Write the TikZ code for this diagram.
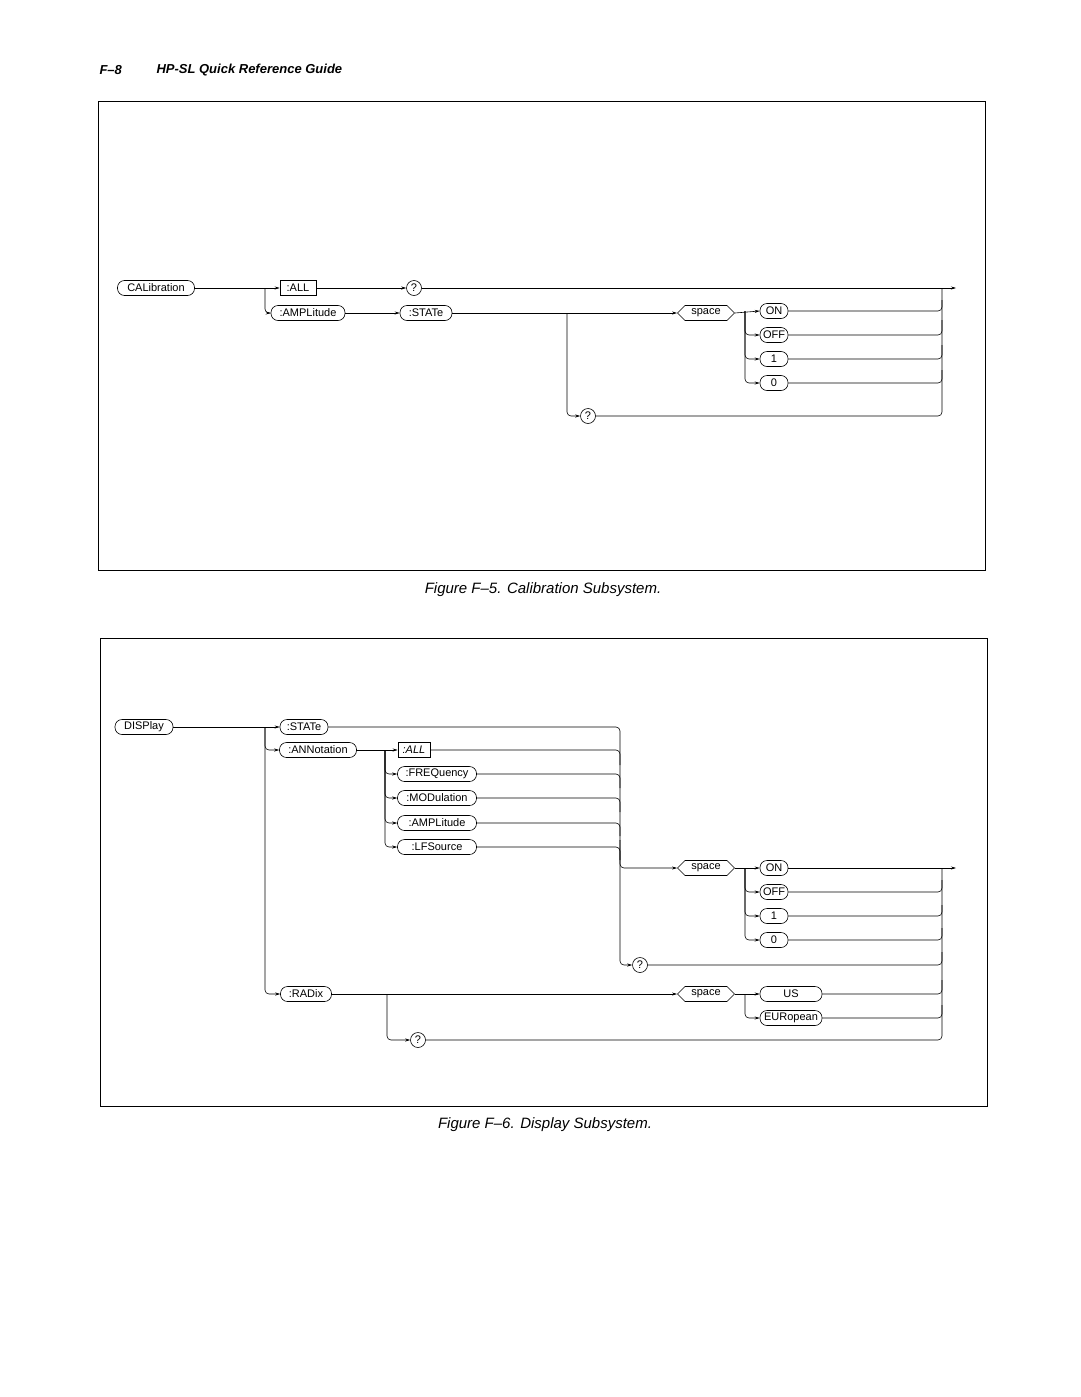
\documentclass[tikz,border=0pt]{standalone}
\usepackage{fontspec}
\setmainfont{Liberation Sans}
\usetikzlibrary{arrows.meta,shapes.symbols}
\begin{document}
\begin{tikzpicture}[x=1pt,y=-1pt,
  every node/.style={font=\fontsize{11}{12}\selectfont},
  rr/.style={draw,rounded corners=7pt,minimum height=15pt,inner sep=1.5pt,line width=0.6pt},
  sq/.style={draw,minimum height=15pt,inner sep=1.5pt,line width=0.6pt},
  qq/.style={draw,circle,minimum size=15pt,inner sep=0pt,line width=0.6pt},
  hx/.style={draw,signal,signal to=east and west,minimum height=15pt,minimum width=57pt,inner sep=1.5pt,line width=0.6pt},
  ln/.style={line width=0.6pt,rounded corners=4pt},
  ar/.style={ln,-{Stealth[length=5pt,width=3pt]}},
  frm/.style={line width=1pt}]
\useasboundingbox (0,0) rectangle (1080,1397);
% header and frames
\node[anchor=west,font=\fontsize{13}{15}\selectfont\bfseries\itshape] (hdr1) at (96,70) {F–8};
\node[anchor=west,font=\fontsize{13}{15}\selectfont\bfseries\itshape] (hdr2) at (153,70) {HP-SL Quick Reference Guide};
\draw[frm] (98,101) rectangle (985,570);
\draw[frm] (100,638) rectangle (987,1106);
\node[font=\fontsize{15}{17}\selectfont\itshape] (cap1) at (543,590) {Figure F–5. Calibration Subsystem.};
\node[font=\fontsize{15}{17}\selectfont\itshape] (cap2) at (545,1125) {Figure F–6. Display Subsystem.};

% ===== Top diagram =====
\node[rr,minimum width=77pt] (cal) at (156,288) {CALibration};
\node[sq,minimum width=36pt] (all) at (298,288) {:ALL};
\node[qq] (q1) at (414,288) {?};
\node[rr,minimum width=74pt] (amp) at (308,313) {:AMPLitude};
\node[rr,minimum width=52pt] (stt) at (426,313) {:STATe};
\node[hx] (sp1) at (706,313) {space};
\node[rr,minimum width=28pt] (on1) at (774,311) {ON};
\node[rr,minimum width=28pt] (off1) at (774,335) {OFF};
\node[rr,minimum width=28pt] (one1) at (774,359) {1};
\node[rr,minimum width=28pt] (zer1) at (774,383) {0};
\node[qq] (q2) at (588,416) {?};
\coordinate (b1) at (265,288);
\coordinate (b2) at (567,313);
\coordinate (b3) at (745,311);
\coordinate (out1) at (956,288);

\draw[ar] (cal.east) -- (all.west);
\draw[ar] (b1) |- (amp.west);
\draw[ar] (all.east) -- (q1.west);
\draw[ar] (q1.east) -- (out1);
\draw[ar] (amp.east) -- (stt.west);
\draw[ar] (stt.east) -- (sp1.west);
\draw[ar] (b2) |- (q2.west);
\draw[ar] (sp1.east) -- (on1.west);
\draw[ar] (b3) |- (off1.west);
\draw[ar] (b3) |- (one1.west);
\draw[ar] (b3) |- (zer1.west);
\draw[ln] (q2.east) -| (942,288);
\draw[ln] (on1.east) -| (942,300);
\draw[ln] (off1.east) -| (942,320);
\draw[ln] (one1.east) -| (942,345);
\draw[ln] (zer1.east) -| (942,370);

% ===== Bottom diagram =====
\node[rr,minimum width=58pt] (dsp) at (144,727) {DISPlay};
\node[rr,minimum width=48pt] (st2) at (304,727) {:STATe};
\node[rr,minimum width=77pt] (ann) at (318,750) {:ANNotation};
\node[rr,minimum width=51pt] (rad) at (306,994) {:RADix};
\node[sq,minimum width=32pt,font=\fontsize{11}{12}\selectfont\itshape] (allb) at (414,750) {:ALL};
\node[rr,minimum width=79pt] (frq) at (437,774) {:FREQuency};
\node[rr,minimum width=79pt] (mod) at (437,798) {:MODulation};
\node[rr,minimum width=79pt] (amp2) at (437,823) {:AMPLitude};
\node[rr,minimum width=79pt] (lfs) at (437,847) {:LFSource};
\node[hx] (sp2) at (706,868) {space};
\node[rr,minimum width=28pt] (on2) at (774,868) {ON};
\node[rr,minimum width=28pt] (off2) at (774,892) {OFF};
\node[rr,minimum width=28pt] (one2) at (774,916) {1};
\node[rr,minimum width=28pt] (zer2) at (774,940) {0};
\node[qq] (q3) at (640,965) {?};
\node[hx] (sp3) at (706,994) {space};
\node[rr,minimum width=62pt] (us) at (791,994) {US};
\node[rr,minimum width=62pt] (eur) at (791,1018) {EURopean};
\node[qq] (q4) at (418,1040) {?};
\coordinate (c1) at (265,727);
\coordinate (c2) at (385,750);
\coordinate (c3) at (620,840);
\coordinate (c4) at (745,868);
\coordinate (c5) at (387,994);
\coordinate (c6) at (745,994);
\coordinate (out2) at (956,868);

\draw[ar] (dsp.east) -- (st2.west);
\draw[ar] (c1) |- (ann.west);
\draw[ar] (c1) |- (rad.west);
\draw[ar] (ann.east) -- (allb.west);
\draw[ar] (c2) |- (frq.west);
\draw[ar] (c2) |- (mod.west);
\draw[ar] (c2) |- (amp2.west);
\draw[ar] (c2) |- (lfs.west);
\draw[ln] (st2.east) -| (c3);
\draw[ln] (allb.east) -| (620,765);
\draw[ln] (frq.east) -| (620,788);
\draw[ln] (mod.east) -| (620,812);
\draw[ln] (amp2.east) -| (620,836);
\draw[ln] (lfs.east) -| (620,860);
\draw[ar] (c3) |- (sp2.west);
\draw[ar] (c3) |- (q3.west);
\draw[ar] (sp2.east) -- (on2.west);
\draw[ar] (c4) |- (off2.west);
\draw[ar] (c4) |- (one2.west);
\draw[ar] (c4) |- (zer2.west);
\draw[ar] (on2.east) -- (out2);
\draw[ln] (off2.east) -| (942,880);
\draw[ln] (one2.east) -| (942,905);
\draw[ln] (zer2.east) -| (942,928);
\draw[ln] (q3.east) -| (942,952);
\draw[ar] (rad.east) -- (sp3.west);
\draw[ar] (c5) |- (q4.west);
\draw[ar] (sp3.east) -- (us.west);
\draw[ar] (c6) |- (eur.west);
\draw[ln] (us.east) -| (942,980);
\draw[ln] (eur.east) -| (942,1005);
\draw[ln] (q4.east) -| (942,868);
\end{tikzpicture}
\end{document}
